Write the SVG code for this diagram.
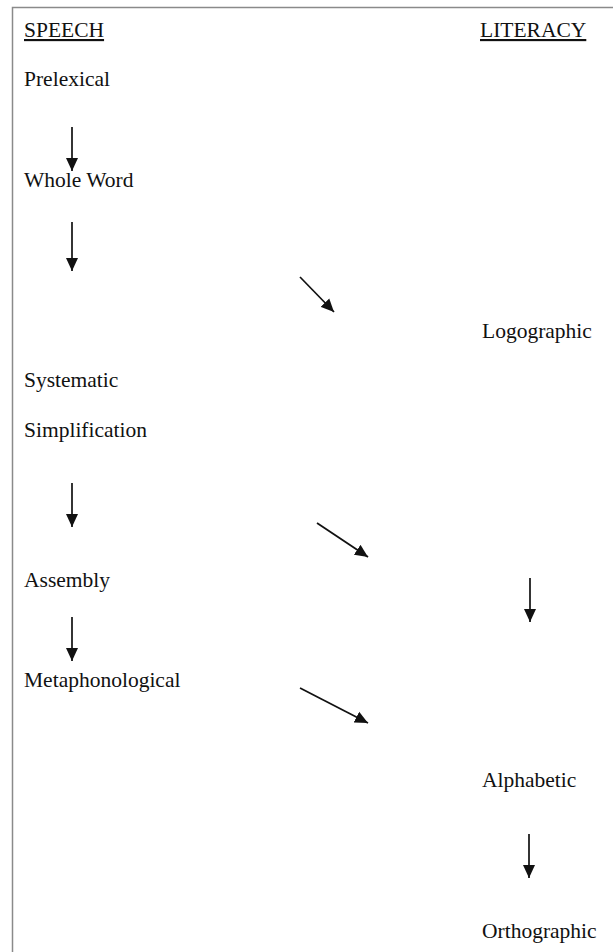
<svg xmlns="http://www.w3.org/2000/svg" width="613" height="952" viewBox="0 0 613 952">
<style>
text { font-family: "Liberation Serif", "Times New Roman", serif; font-size: 21.5px; fill: #111; }
.head { text-decoration: underline; }
.arrow { stroke: #111; stroke-width: 1.7; fill: none; marker-end: url(#ah); }
.frame { stroke: #8a8a8a; stroke-width: 1.5; fill: none; }
</style>
<defs>
<marker id="ah" markerUnits="userSpaceOnUse" markerWidth="13" markerHeight="13" viewBox="0 0 13 13" refX="13" refY="6.5" orient="auto">
<path d="M0,0.5 L13,6.5 L0,12.5 Z" fill="#111"/>
</marker>
</defs>
<rect width="613" height="952" fill="#fff"/>
<path class="frame" d="M12.5,952 V7.5 H613"/>
<g id="speech"><text class="head" x="24" y="37">SPEECH</text></g>
<g id="literacy"><text class="head" x="480" y="37">LITERACY</text></g>
<g id="prelexical"><text x="24" y="86">Prelexical</text></g>
<g id="wholeword"><text x="24" y="187">Whole Word</text></g>
<g id="logographic"><text x="482" y="338">Logographic</text></g>
<g id="systematic"><text x="24" y="387">Systematic</text></g>
<g id="simplification"><text x="24" y="437">Simplification</text></g>
<g id="assembly"><text x="24" y="587">Assembly</text></g>
<g id="metaphonological"><text x="24" y="687">Metaphonological</text></g>
<g id="alphabetic"><text x="482" y="787">Alphabetic</text></g>
<g id="orthographic"><text x="482" y="938">Orthographic</text></g>
<g id="connectors">
<line class="arrow" x1="72" y1="127" x2="72" y2="171"/>
<line class="arrow" x1="72" y1="222" x2="72" y2="271"/>
<line class="arrow" x1="300" y1="277" x2="334" y2="312"/>
<line class="arrow" x1="72" y1="483" x2="72" y2="527"/>
<line class="arrow" x1="317" y1="523" x2="368" y2="557"/>
<line class="arrow" x1="530" y1="578" x2="530" y2="622"/>
<line class="arrow" x1="72" y1="617" x2="72" y2="661"/>
<line class="arrow" x1="300" y1="688" x2="368" y2="723"/>
<line class="arrow" x1="529" y1="834" x2="529" y2="878"/>
</g>
</svg>
